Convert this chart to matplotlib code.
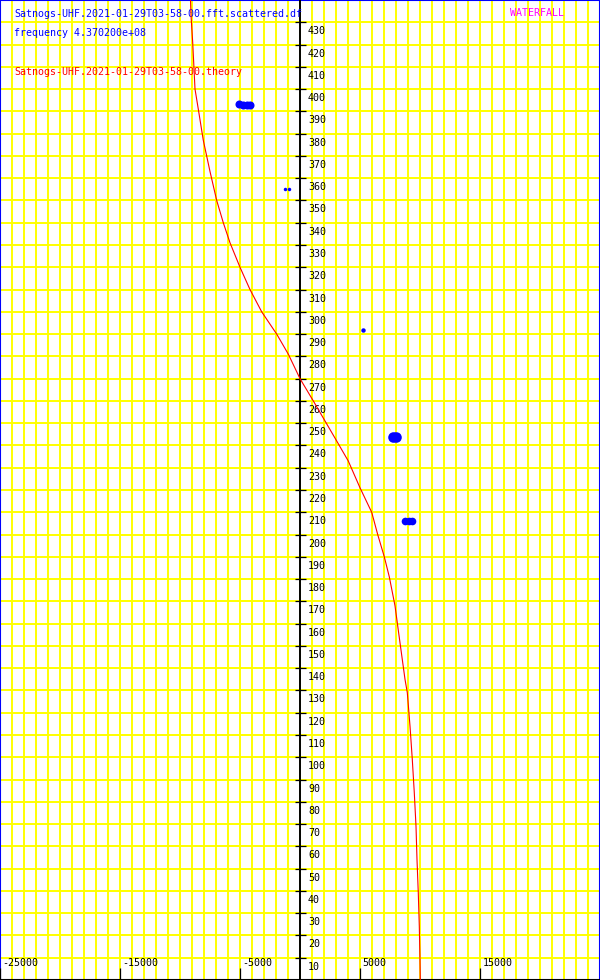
import numpy as np
from matplotlib import pyplot as plt

# theory doppler curve (Hz offset vs. time row)
theory_y = [440, 433, 421, 400, 391, 377, 363, 350, 340, 331, 320, 310, 300, 290, 281,
            270, 260, 242, 233, 221, 210, 200, 190, 181, 168, 157, 135, 129, 114, 99,
            84, 69, 54, 39, 24, 9, 0]
theory_x = [-9125, -9083, -8942, -8750, -8475, -8058, -7500, -6942, -6392, -5833, -5000,
            -4167, -3192, -1942, -975, 0, 1108, 3058, 4025, 5000, 5975, 6475, 7025, 7442,
            7917, 8192, 8750, 8942, 9167, 9358, 9525, 9667, 9750, 9858, 9942, 10000, 10025]

# scattered detections, one list per blob
blob_x = [[-5083, -4750, -4417, -4167], [-1250, -958], [5267], [7775, 7975], [8750, 9042, 9333]]
blob_y = [[393.5, 393, 393, 393], [355, 355], [292], [243.8, 243.8], [206, 206, 206]]

ytick_labels = list(range(10, 440, 10))
xtick_labels = [-25000, -15000, -5000, 5000, 15000]

title1 = 'Satnogs-UHF.2021-01-29T03-58-00.fft.scattered.df'
title2 = 'frequency 4.370200e+08'
title3 = 'Satnogs-UHF.2021-01-29T03-58-00.theory'
title4 = 'WATERFALL'

XMIN, XMAX, YMIN, YMAX = -25000, 25000, 0, 440
PX = (XMAX - XMIN) / 600.0   # data units per pixel in x
PY = (YMAX - YMIN) / 980.0

fig = plt.figure(figsize=(6, 9.8), dpi=100)
ax = fig.add_axes([0, 0, 1, 1])
ax.set_xlim(XMIN, XMAX)
ax.set_ylim(YMIN, YMAX)
ax.set_xticks([])
ax.set_yticks([])
for s in ['left', 'top', 'right']:
    ax.spines[s].set_color('#0000ff')
    ax.spines[s].set_linewidth(1.5)
ax.spines['bottom'].set_color('black')
ax.spines['bottom'].set_linewidth(1.5)

# yellow grid
for gx in range(XMIN, XMAX + 1, 1000):
    ax.axvline(gx, color='#ffff00', lw=1.4, zorder=1)
for gy in range(YMIN, YMAX + 1, 10):
    ax.axhline(gy, color='#ffff00', lw=1.4, zorder=1)

# central axis with ticks
ax.axvline(0, color='black', lw=1.4, zorder=3)
ax.hlines(ytick_labels, -5.5 * PX, 5.5 * PX, color='black', lw=0.9, zorder=3)
ax.vlines(xtick_labels, 0, 12 * PY, color='black', lw=0.9, zorder=3)

mono = 'DejaVu Sans Mono'
fs = 7.2
for yv in ytick_labels:
    ax.text(8 * PX, yv - 9 * PY, str(yv), fontsize=fs, family=mono, color='black',
            ha='left', va='center', zorder=4)
for xv in xtick_labels:
    ax.text(xv + 2.5 * PX, 17 * PY, str(xv), fontsize=fs, family=mono, color='black',
            ha='left', va='center', zorder=4)

# header texts
ax.text(XMIN + 14 * PX, YMAX - 14 * PY, title1, fontsize=fs, family=mono, color='#0000ff',
        ha='left', va='center', zorder=4)
ax.text(XMIN + 14 * PX, YMAX - 33 * PY, title2, fontsize=fs, family=mono, color='#0000ff',
        ha='left', va='center', zorder=4)
ax.text(XMIN + 14 * PX, YMAX - 72 * PY, title3, fontsize=fs, family=mono, color='#ff0000',
        ha='left', va='center', zorder=4)
ax.text(XMIN + 510 * PX, YMAX - 13 * PY, title4, fontsize=fs, family=mono, color='#ff00ff',
        ha='left', va='center', zorder=4)

# theory curve
ax.plot(theory_x, theory_y, color='#ff0000', lw=0.8, zorder=5)

# detections
blob_ms = [5.8, 2.5, 3.2, 7.6, 5.5]
for bx, by, ms in zip(blob_x, blob_y, blob_ms):
    ax.plot(bx, by, 'o', color='#0000ff', ms=ms, mew=0, zorder=6)

fig.savefig('out.png', dpi=100)
